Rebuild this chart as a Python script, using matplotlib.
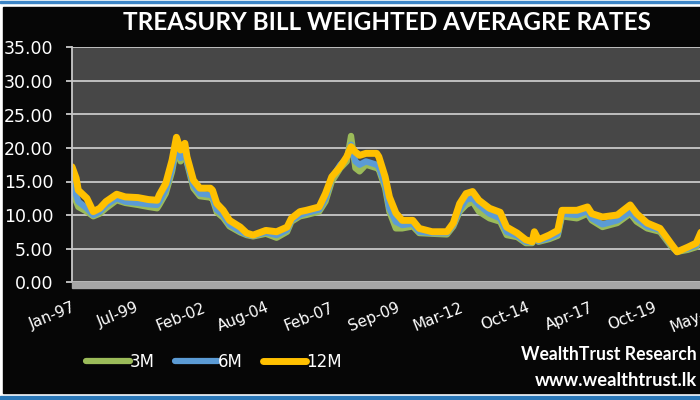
import pandas as pd
import matplotlib
matplotlib.use("Agg")
import matplotlib.pyplot as plt
from matplotlib.patches import Rectangle

# Data
months = ['1997-01', '1997-03', '1997-04', '1997-08', '1997-11', '1998-02', '1998-05', '1998-10',
          '1999-02', '1999-08', '2000-01', '2000-05', '2000-06', '2000-09', '2000-12', '2001-02',
          '2001-04', '2001-06', '2001-07', '2001-10', '2002-01', '2002-06', '2002-07', '2002-09',
          '2002-12', '2003-03', '2003-08', '2003-11', '2004-02', '2004-08', '2005-01', '2005-06',
          '2005-08', '2005-12', '2006-03', '2006-09', '2006-12', '2007-03', '2007-07', '2007-10',
          '2007-12', '2008-02', '2008-04', '2008-07', '2008-12', '2009-01', '2009-04', '2009-06',
          '2009-09', '2009-12', '2010-05', '2010-08', '2011-02', '2011-09', '2011-12', '2012-03',
          '2012-06', '2012-09', '2012-12', '2013-05', '2013-10', '2014-01', '2014-06', '2014-10',
          '2015-01', '2015-02', '2015-04', '2015-09', '2016-01', '2016-03', '2016-10', '2017-03',
          '2017-05', '2017-10', '2018-05', '2018-11', '2019-02', '2019-07', '2020-01', '2020-06',
          '2020-09', '2021-02', '2021-06', '2021-09']

rate_12m = [17.2, 15.5, 13.7, 12.5, 10.5, 11.0, 12.0, 13.1, 12.7, 12.6, 12.3, 12.2, 13.0, 14.7,
            18.2, 21.6, 19.7, 20.7, 18.7, 15.2, 14.0, 14.0, 13.7, 11.7, 10.7, 9.2, 8.2, 7.3,
            7.0, 7.7, 7.5, 8.2, 9.5, 10.5, 10.7, 11.2, 13.2, 15.7, 17.2, 18.7, 20.2, 19.4,
            18.9, 19.2, 19.2, 18.7, 15.7, 12.7, 10.3, 9.2, 9.2, 8.0, 7.5, 7.5, 8.8, 11.7,
            13.2, 13.5, 12.2, 11.0, 10.4, 8.2, 7.3, 6.3, 6.0, 7.5, 6.3, 7.0, 7.7, 10.7,
            10.7, 11.2, 10.2, 9.7, 10.0, 11.5, 10.2, 8.8, 8.0, 5.8, 4.5, 5.2, 5.8, 8.0]

rate_6m = [15.0, 13.0, 12.0, 11.0, 10.0, 10.5, 11.5, 12.5, 12.0, 11.8, 11.6, 11.5, 12.0, 13.8,
           17.0, 20.5, 18.5, 19.8, 18.0, 14.5, 13.2, 13.0, 12.8, 10.8, 10.0, 8.6, 7.6, 7.1,
           6.9, 7.4, 7.0, 7.8, 9.2, 10.0, 10.3, 10.8, 12.5, 15.5, 17.5, 18.5, 20.5, 18.0,
           17.5, 18.0, 17.5, 17.2, 14.5, 11.0, 9.0, 8.5, 8.7, 7.5, 7.3, 7.3, 8.5, 10.8,
           12.3, 12.5, 11.5, 10.2, 9.5, 7.5, 6.9, 6.0, 5.9, 7.0, 6.1, 6.6, 7.2, 10.2,
           10.0, 10.6, 9.5, 8.6, 9.2, 10.5, 9.5, 8.3, 7.8, 5.6, 4.6, 5.0, 5.5, 7.5]

rate_3m = [14.0, 12.0, 11.2, 10.5, 9.8, 10.2, 11.0, 12.2, 11.8, 11.5, 11.2, 11.0, 11.5, 13.2,
           16.5, 20.0, 18.0, 19.5, 17.8, 14.0, 12.8, 12.6, 12.4, 10.4, 9.6, 8.3, 7.4, 7.0,
           6.8, 7.2, 6.6, 7.5, 9.0, 9.8, 10.0, 10.5, 12.0, 15.0, 17.0, 18.0, 21.8, 17.0,
           16.5, 17.5, 17.0, 16.8, 14.0, 10.5, 8.0, 8.0, 8.3, 7.3, 7.2, 7.1, 8.3, 10.5,
           11.5, 12.0, 10.5, 9.5, 9.0, 7.0, 6.7, 5.8, 5.8, 6.8, 6.0, 6.4, 6.9, 9.8,
           9.5, 10.2, 9.2, 8.2, 8.8, 10.2, 9.0, 8.0, 7.5, 5.4, 4.5, 4.8, 5.2, 7.0]

tick_months = ['1997-01', '1999-07', '2002-02', '2004-08', '2007-02', '2009-09',
               '2012-03', '2014-10', '2017-04', '2019-10', '2022-05']
tick_labels = ['Jan-97', 'Jul-99', 'Feb-02', 'Aug-04', 'Feb-07', 'Sep-09',
               'Mar-12', 'Oct-14', 'Apr-17', 'Oct-19', 'May-22']
y_ticks = [0, 5, 10, 15, 20, 25, 30, 35]

dates = pd.to_datetime(months)
tick_dates = pd.to_datetime(tick_months)

W, H = 700, 400
fig = plt.figure(figsize=(7, 4), dpi=100, facecolor='white')

# frame: black panel with blue rules top and bottom (behind the axes)
fig.patches.append(Rectangle((3 / W, 1 - 393 / H), 697 / W, 386 / H,
                             transform=fig.transFigure, color='#060606', zorder=-5))
fig.patches.append(Rectangle((0, 1 - 3 / H), 1, 2 / H,
                             transform=fig.transFigure, color='#3d85c6', zorder=-5))
fig.patches.append(Rectangle((0, 0), 1, 4 / H,
                             transform=fig.transFigure, color='#2b78b8', zorder=-5))

# axes reach past the right edge, like the cropped original
ax = fig.add_axes([72 / W, (H - 282) / H, 698 / W, 234.5 / H])
ax.set_facecolor('#474747')

ax.plot(dates, rate_3m, color='#9bbb59', lw=4.5, label='3M', solid_capstyle='round')
ax.plot(dates, rate_6m, color='#5b9bd5', lw=4.5, label='6M', solid_capstyle='round')
ax.plot(dates, rate_12m, color='#ffc000', lw=5.0, label='12M', solid_capstyle='round')

ax.set_ylim(0, 35)
ax.set_xlim(pd.Timestamp('1997-01-01'), pd.Timestamp('2024-04-20'))
ax.set_yticks(y_ticks)
ax.set_yticklabels(['%.2f' % v for v in y_ticks])
ax.set_xticks(tick_dates)
ax.set_xticklabels(tick_labels, rotation=22, ha='right', rotation_mode='anchor')

ax.grid(axis='y', color='#c8c8c8', lw=1.3)
ax.set_axisbelow(True)
for s in ['top', 'right', 'bottom']:
    ax.spines[s].set_visible(False)
ax.spines['left'].set_color('#c8c8c8')
ax.spines['left'].set_linewidth(1.3)

ax.tick_params(axis='y', colors='#c8c8c8', length=4.5, width=1.3, pad=9,
               labelcolor='white', labelsize=12.5)
ax.tick_params(axis='x', length=0, pad=13, labelcolor='white', labelsize=11)

# grey floor band under the zero line
ax.add_patch(Rectangle((0, -6 / 234.5), 1, 6 / 234.5, transform=ax.transAxes,
                       color='#a6a6a6', clip_on=False, zorder=3))

fig.text(387 / W, 1 - 23 / H, 'TREASURY BILL WEIGHTED AVERAGRE RATES', color='white',
         fontsize=17.5, fontweight='bold', family='Lato', ha='center', va='center')

leg = fig.legend(loc='center', bbox_to_anchor=(214 / W, 1 - 362 / H), ncol=3,
                 frameon=False, handlelength=2.6, handletextpad=0.0, columnspacing=1.2,
                 fontsize=12)
for t in leg.get_texts():
    t.set_color('white')

fig.text(697 / W, 1 - 355 / H, 'WealthTrust Research', color='white', fontsize=12.7,
         fontweight='bold', family='Lato', ha='right', va='center')
fig.text(697 / W, 1 - 381 / H, 'www.wealthtrust.lk', color='white', fontsize=13.2,
         fontweight='bold', family='Lato', ha='right', va='center')

fig.savefig('out.png', dpi=100, facecolor=fig.get_facecolor())
